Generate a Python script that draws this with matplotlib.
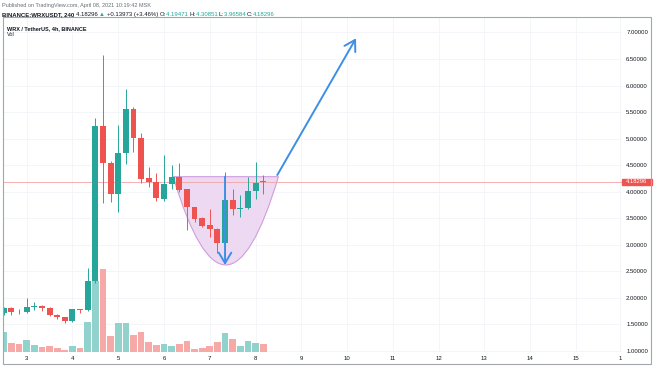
import matplotlib
matplotlib.use("Agg")
import matplotlib.pyplot as plt
from matplotlib.patches import Rectangle, PathPatch
from matplotlib.path import Path
from matplotlib.transforms import blended_transform_factory

plt.rcParams['font.family'] = ['Liberation Sans', 'DejaVu Sans']

# ---------------- data (4h candles, WRX/USDT) ----------------
opens  = [1.71, 1.815, 1.74, 1.73, 1.83, 1.85, 1.815, 1.68, 1.64, 1.57, 1.79, 1.77,
          2.32, 5.24, 4.55, 3.96, 4.73, 5.55, 5.02, 4.25, 4.19, 3.86, 4.14, 4.27,
          4.05, 3.71, 3.50, 3.37, 3.30, 3.03, 3.84, 3.67, 3.70, 4.02, 4.19471]
highs  = [1.83, 1.83, 1.80, 2.00, 1.93, 1.86, 1.83, 1.69, 1.645, 1.80, 1.80, 2.56,
          5.38, 6.57, 4.58, 5.26, 5.93, 5.60, 5.10, 4.47, 4.35, 4.69, 4.50, 4.55,
          4.06, 3.72, 3.52, 3.67, 3.31, 4.38, 4.05, 3.94, 4.28, 4.56, 4.30851]
lows   = [1.68, 1.68, 1.70, 1.72, 1.77, 1.76, 1.66, 1.60, 1.53, 1.55, 1.71, 1.75,
          2.28, 3.78, 3.81, 3.62, 4.53, 4.75, 4.16, 4.09, 3.82, 3.83, 4.06, 4.00,
          3.28, 3.43, 3.33, 3.14, 2.84, 3.00, 3.56, 3.53, 3.68, 3.86, 3.96584]
closes = [1.815, 1.74, 1.73, 1.83, 1.84, 1.815, 1.67, 1.635, 1.57, 1.785, 1.77, 2.32,
          5.24, 4.55, 3.96, 4.72, 5.55, 5.02, 4.23, 4.19, 3.88, 4.14, 4.28, 4.03,
          3.71, 3.49, 3.36, 3.30, 3.03, 3.84, 3.67, 3.70, 4.02, 4.16, 4.18296]
volumes = [20, 9.4, 7.7, 12.4, 6.7, 5, 5.7, 4, 2.4, 6, 4, 30,
           70.7, 82.4, 15.7, 29, 29, 16.7, 20, 10, 6.7, 8.4, 6, 8.4,
           10.7, 2.7, 4, 6, 9.7, 19, 13, 5.7, 11, 9, 7.7]
vol_axis_max = 334

day_labels = ["3", "4", "5", "6", "7", "8", "9", "10", "11", "12", "13", "14", "15", "1"]
day_pos = [3, 9, 15, 21, 27, 33, 39, 45, 51, 57, 63, 69, 75, 80.8]
price_ticks = [1.0, 1.5, 2.0, 2.5, 3.0, 3.5, 4.0, 4.5, 5.0, 5.5, 6.0, 6.5, 7.0]
last_price = 4.18296

# drawings (cup curve and arrows), in candle-index / price units
cup_x = [22.2, 29.1, 36.0]
cup_y = [4.283, 0.957, 4.283]          # quadratic bezier: start, control, end
down_arrow = [(29.0, 4.283), (29.0, 2.62)]
up_arrow = [(35.85, 4.314), (46.17, 6.889)]

# ---------------- style ----------------
UP = '#26a69a'
DN = '#ef5350'
UPV = '#92d2cc'
DNV = '#f7a9a8'
GRID = '#f4f5f9'
TXT = '#131722'

W, H = 654, 366
fig = plt.figure(figsize=(W / 100, H / 100), dpi=100)
fig.patch.set_facecolor('white')

left, right, top, bottom = 3, 622, 17, 352
ax = fig.add_axes([left / W, (H - bottom) / H, (right - left) / W, (bottom - top) / H])
ax.set_xlim(-0.107, 81.04)
ax.set_ylim(0.9812, 7.2902)
for s in ax.spines.values():
    s.set_visible(False)
ax.set_axisbelow(True)
ax.grid(True, color=GRID, lw=0.7)

# volume bars
tr = blended_transform_factory(ax.transData, ax.transAxes)
xs = list(range(len(opens)))
vcols = [UPV if c >= o else DNV for o, c in zip(opens, closes)]
ax.bar(xs, [v / vol_axis_max for v in volumes], width=0.88, bottom=0,
       color=vcols, transform=tr, zorder=1)

# cup
verts = list(zip(cup_x, cup_y)) + [(cup_x[0], cup_y[0])]
cup = Path(verts, [Path.MOVETO, Path.CURVE3, Path.CURVE3, Path.CLOSEPOLY])
ax.add_patch(PathPatch(cup, facecolor='#ecd6f1', edgecolor='#cc95d8', lw=0.8,
                       alpha=0.9, zorder=1.5))

# candles
for i, (o, h, l, c) in enumerate(zip(opens, highs, lows, closes)):
    col = UP if c >= o else DN
    ax.vlines(i, l, h, color=col, lw=0.7, zorder=2)
    ax.bar(i, max(abs(c - o), 0.012), bottom=min(o, c), width=0.78,
           color=col, zorder=2.1)

# last price line and label
ax.axhline(last_price, color='#f5a3a3', lw=0.6, zorder=1.8)
trl = blended_transform_factory(ax.transAxes, ax.transData)
ax.add_patch(Rectangle((1.0, last_price - 0.056), 29.7 / (right - left), 0.112,
                       transform=trl, clip_on=False, color='#ef5350', zorder=5))
ax.text(1.0 + 3.5 / (right - left), last_price, f"{last_price:.5f}", transform=trl,
        ha='left', va='center', fontsize=4.2, color='white', zorder=6, clip_on=False)

# arrows
arrow_kw = dict(arrowstyle='->,head_length=0.75,head_width=0.45', color='#3d8fe6',
                lw=1.4, mutation_scale=10, shrinkA=0, shrinkB=0)
ax.annotate('', xy=down_arrow[1], xytext=down_arrow[0], arrowprops=arrow_kw, zorder=4)
ax.annotate('', xy=up_arrow[1], xytext=up_arrow[0], arrowprops=arrow_kw, zorder=4)

# axes ticks
ax.set_xticks(day_pos)
ax.set_xticklabels(day_labels)
ax.set_yticks(price_ticks)
ax.set_yticklabels([f"{p:.5f}" for p in price_ticks])
ax.yaxis.tick_right()
ax.tick_params(axis='x', length=0, pad=3.2, labelsize=4.3, colors=TXT)
ax.tick_params(axis='y', length=0, pad=3, labelsize=4.3, colors=TXT)

# outer frame
fig.add_artist(Rectangle((3 / W, (H - 364) / H), 648 / W, (364 - 17) / H,
                         fill=False, ec='#a3a6af', lw=0.8, transform=fig.transFigure))

# header texts
def fy(py):
    return (H - py) / H

fig.text(2 / W, fy(5.7), "Published on TradingView.com, April 08, 2021 10:19:42 MSK",
         fontsize=4.0, color='#6a6d78', va='center', ha='left')

pieces = [("BINANCE:WRXUSDT, 240 ", 'bold', TXT),
          ("4.18296 ", 'normal', TXT),
          ("\u25B2 ", 'normal', UP),
          ("+0.13973 (+3.46%) ", 'normal', TXT),
          ("O:", 'normal', TXT), ("4.19471 ", 'normal', UP),
          ("H:", 'normal', TXT), ("4.30851 ", 'normal', UP),
          ("L:", 'normal', TXT), ("3.96584 ", 'normal', UP),
          ("C:", 'normal', TXT), ("4.18296", 'normal', UP)]
renderer = fig.canvas.get_renderer()
xpix = 2.0
for txt, wt, col in pieces:
    t = fig.text(xpix / W, fy(14.3), txt, fontsize=4.3, fontweight=wt, color=col,
                 va='center', ha='left')
    bb = t.get_window_extent(renderer=renderer)
    xpix += bb.width

fig.text(7 / W, fy(28.3), "WRX / TetherUS, 4h, BINANCE", fontsize=4.0,
         fontweight='bold', color=TXT, va='center', ha='left')
fig.text(7 / W, fy(34.5), "Vol", fontsize=4.0, color=TXT, va='center', ha='left')

fig.savefig("out.png", dpi=100, facecolor='white')
